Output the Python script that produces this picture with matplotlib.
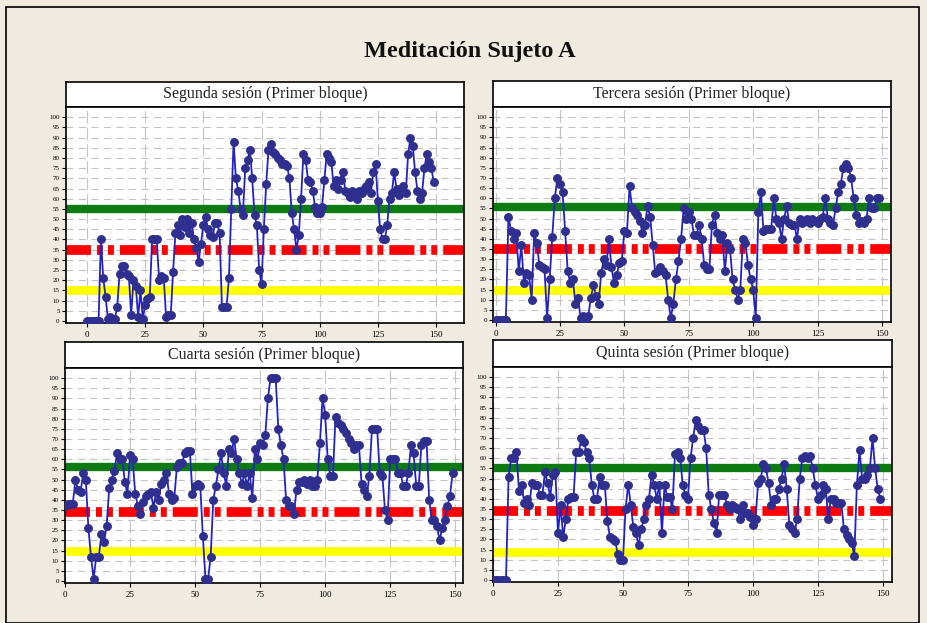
import numpy as np
import matplotlib
matplotlib.use("Agg")
import matplotlib.pyplot as plt
from matplotlib.patches import Rectangle

plt.rcParams['lines.scale_dashes'] = False
plt.rcParams['font.family'] = ['Liberation Serif', 'DejaVu Serif']

# ---------------- data ----------------
titles = ["Segunda sesión (Primer bloque)", "Tercera sesión (Primer bloque)",
          "Cuarta sesión (Primer bloque)", "Quinta sesión (Primer bloque)"]
main_title = "Meditación Sujeto A"

s2 = [0, 0, 0, 0, 0, 0, 40, 21, 12, 1, 2, 1, 1, 7, 23, 27, 27, 23, 22, 3,
      20, 17, 2, 15, 1, 8, 11, 12, 40, 40, 40, 20, 22, 21, 2, 3, 3, 24, 43, 47,
      42, 50, 46, 50, 43, 48, 40, 36, 29, 38, 47, 51, 45, 42, 41, 48, 48, 43, 7, 7,
      7, 21, 55, 88, 70, 64, 55, 52, 75, 79, 84, 70, 52, 47, 25, 18, 45, 67, 84, 87,
      83, 82, 80, 79, 77, 77, 76, 70, 53, 45, 35, 42, 60, 82, 79, 69, 68, 64, 56, 53,
      53, 56, 69, 82, 80, 78, 66, 69, 65, 69, 73, 64, 63, 61, 64, 62, 60, 64, 63, 65,
      66, 68, 63, 73, 77, 59, 45, 40, 40, 47, 60, 63, 73, 65, 62, 64, 66, 63, 82, 90,
      86, 73, 64, 60, 63, 75, 82, 78, 75, 68]
s3 = [0, 0, 0, 0, 0, 51, 44, 40, 43, 24, 37, 18, 23, 22, 10, 43, 38, 27, 26, 25,
      1, 20, 41, 60, 70, 67, 63, 44, 24, 18, 20, 8, 11, 1, 2, 1, 2, 11, 17, 12,
      8, 23, 30, 27, 40, 26, 18, 22, 28, 29, 44, 43, 66, 55, 53, 52, 49, 43, 47, 56,
      51, 37, 23, 24, 26, 24, 22, 10, 1, 8, 20, 29, 40, 55, 50, 53, 50, 42, 42, 47,
      40, 27, 25, 25, 47, 52, 43, 40, 42, 24, 38, 35, 20, 15, 10, 15, 40, 38, 27, 20,
      15, 1, 53, 63, 44, 45, 45, 45, 60, 50, 48, 40, 50, 56, 48, 47, 47, 40, 50, 48,
      49, 50, 48, 50, 49, 48, 50, 51, 60, 50, 48, 47, 55, 63, 67, 75, 77, 75, 70, 60,
      52, 48, 49, 48, 50, 60, 55, 55, 60, 60]
s4 = [37, 38, 38, 38, 50, 45, 44, 53, 50, 26, 12, 1, 12, 12, 23, 19, 27, 46, 50, 54,
      63, 60, 60, 49, 43, 62, 60, 43, 37, 33, 39, 42, 43, 44, 36, 44, 40, 48, 50, 53,
      43, 40, 41, 56, 58, 58, 63, 64, 64, 43, 47, 48, 47, 22, 1, 1, 12, 40, 47, 55,
      63, 53, 47, 65, 63, 70, 60, 53, 48, 53, 47, 53, 41, 65, 60, 68, 67, 72, 90, 100,
      100, 100, 75, 67, 60, 40, 37, 37, 33, 45, 49, 49, 50, 48, 50, 47, 47, 50, 68, 90,
      82, 60, 52, 52, 81, 78, 77, 75, 73, 70, 68, 65, 67, 67, 48, 45, 42, 52, 75, 75,
      75, 53, 52, 35, 30, 60, 60, 60, 53, 53, 47, 47, 53, 67, 63, 47, 47, 67, 69, 69,
      40, 30, 30, 27, 20, 26, 30, 37, 42, 53]
s5 = [0, 0, 0, 0, 0, 0, 51, 60, 60, 63, 44, 47, 38, 40, 37, 48, 47, 47, 42, 42,
      53, 48, 41, 52, 53, 23, 37, 21, 30, 40, 41, 41, 63, 63, 70, 68, 63, 60, 47, 40,
      40, 51, 47, 47, 29, 21, 20, 19, 13, 10, 10, 35, 47, 37, 26, 23, 17, 25, 30, 37,
      40, 52, 47, 40, 47, 23, 47, 41, 41, 35, 62, 63, 60, 47, 42, 40, 60, 70, 79, 76,
      74, 74, 65, 42, 35, 28, 23, 42, 42, 42, 37, 35, 37, 36, 35, 30, 37, 33, 33, 31,
      27, 30, 48, 50, 57, 55, 48, 37, 40, 40, 45, 50, 57, 45, 27, 25, 23, 30, 50, 60,
      61, 60, 61, 55, 47, 40, 42, 47, 45, 30, 40, 40, 38, 38, 38, 25, 22, 20, 18, 12,
      47, 64, 50, 50, 52, 55, 70, 55, 45, 40]
series = [s2, s3, s4, s5]

green_lv = [55, 55.5, 56, 55]
red_lv = [35, 35, 34, 34]
yellow_lv = [15, 15, 15, 14]
xlims = [(-9, 162), (-1, 153.5), (0, 153), (0, 153.5)]

# panel geometry in pixels: (x0, x1, title_top, plot_top, plot_bottom)
geom = [(66, 464, 82, 107, 323),
        (493, 891, 81, 107, 322),
        (65, 463, 342, 368, 583),
        (493, 892, 340, 367, 582)]

W, H = 927, 623
bg = '#efebe1'
fig = plt.figure(figsize=(W / 100, H / 100), dpi=100, facecolor=bg)

# outer frame
fig.patches.append(Rectangle((6 / W, 0), (919 - 6) / W, 1 - 7 / H, transform=fig.transFigure,
                             fill=False, edgecolor='black', linewidth=1.2))
fig.text(470 / W, 1 - 51 / H, main_title, ha='center', va='center',
         fontsize=17.5, fontweight='bold', color='#111111')

def px_axes(x0, x1, y0, y1):
    return fig.add_axes([x0 / W, 1 - y1 / H, (x1 - x0) / W, (y1 - y0) / H])

for i in range(4):
    x0, x1, tt, pt, pb = geom[i]
    # title box
    tax = px_axes(x0, x1, tt, pt)
    tax.set_xticks([]); tax.set_yticks([])
    tax.set_facecolor('white')
    for sp in tax.spines.values():
        sp.set_linewidth(1.2)
    tax.text(0.5, 0.5, titles[i], ha='center', va='center', fontsize=11.5,
             transform=tax.transAxes, color='#222222')

    ax = px_axes(x0, x1, pt, pb)
    ax.set_facecolor('white')
    ax.set_xlim(*xlims[i])
    ax.set_ylim(-1, 105)
    ax.set_yticks(np.arange(0, 101, 5))
    ax.set_xticks(np.arange(0, 151, 25))
    ax.tick_params(axis='y', labelsize=5, length=3, width=0.8, pad=1.5)
    ax.tick_params(axis='x', labelsize=6.5, length=3, width=0.8, pad=3)
    for sp in ax.spines.values():
        sp.set_linewidth(1.2)
    for yv in np.arange(5, 101, 5):
        ax.axhline(yv, color='#c4c4c4', lw=0.8, dashes=(5, 4), zorder=0)
    for xv in np.arange(0, 151, 25):
        ax.axvline(xv, color='#c4c4c4', lw=0.8, dashes=(9, 3), zorder=0)

    ax.axhline(green_lv[i], color='#0e7a12', lw=6.0, zorder=2)
    ax.axhline(yellow_lv[i], color='#ffff00', lw=6.3, zorder=2)
    ax.axhline(red_lv[i], color='#ff0000', lw=7.0, zorder=2,
               dashes=(18, 4.3, 4.3, 3.6, 4.3, 4.3), dash_capstyle='butt')

    y = series[i]
    x = np.arange(len(y))
    ax.plot(x, y, color='#2222c8', lw=1.3, marker='o', markersize=5.4,
            markerfacecolor='#2f2f8f', markeredgecolor='#2f2f8f', zorder=3)

fig.savefig('out.png', dpi=100, facecolor=bg)
